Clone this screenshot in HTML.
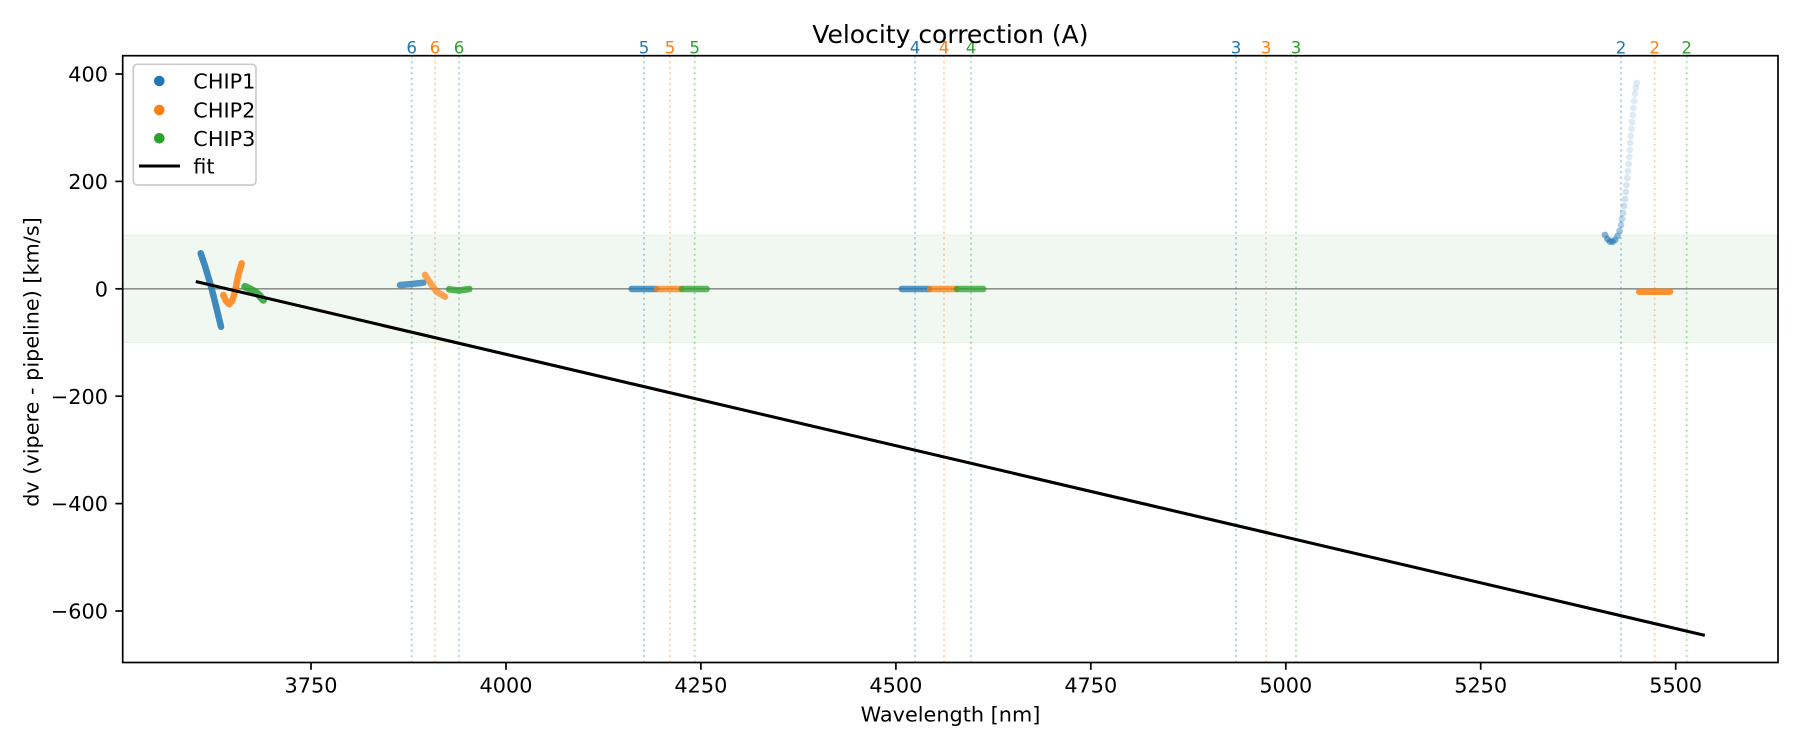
<!DOCTYPE html>
<html>
<head>
<meta charset="utf-8">
<style>
  html, body { margin:0; padding:0; background:#fff; }
  svg { display:block; }
  text { font-family: "DejaVu Sans", "Liberation Sans", sans-serif; }
</style>
</head>
<body>
<svg width="1800" height="750" viewBox="0 0 1800 750" xmlns="http://www.w3.org/2000/svg">
  <rect x="0" y="0" width="1800" height="750" fill="#ffffff"/>

  <!-- green band +-100 -->
  <rect x="122.7" y="235.1" width="1655.3" height="107.4" fill="#008000" fill-opacity="0.055" stroke="#008000" stroke-opacity="0.08" stroke-width="1"/>

  <!-- zero line -->
  <line x1="122.7" y1="288.8" x2="1778" y2="288.8" stroke="#808080" stroke-width="1.4"/>

  <!-- vertical dotted lines -->
  <g stroke-width="1.7" stroke-dasharray="2.1 3.4" stroke-opacity="0.4">
    <line x1="411.7" y1="55.7" x2="411.7" y2="662.5" stroke="#1f77b4"/>
    <line x1="435" y1="55.7" x2="435" y2="662.5" stroke="#ff7f0e"/>
    <line x1="459" y1="55.7" x2="459" y2="662.5" stroke="#2ca02c"/>
    <line x1="644" y1="55.7" x2="644" y2="662.5" stroke="#1f77b4"/>
    <line x1="670" y1="55.7" x2="670" y2="662.5" stroke="#ff7f0e"/>
    <line x1="694.7" y1="55.7" x2="694.7" y2="662.5" stroke="#2ca02c"/>
    <line x1="915" y1="55.7" x2="915" y2="662.5" stroke="#1f77b4"/>
    <line x1="944" y1="55.7" x2="944" y2="662.5" stroke="#ff7f0e"/>
    <line x1="971" y1="55.7" x2="971" y2="662.5" stroke="#2ca02c"/>
    <line x1="1236" y1="55.7" x2="1236" y2="662.5" stroke="#1f77b4"/>
    <line x1="1266" y1="55.7" x2="1266" y2="662.5" stroke="#ff7f0e"/>
    <line x1="1296" y1="55.7" x2="1296" y2="662.5" stroke="#2ca02c"/>
    <line x1="1621" y1="55.7" x2="1621" y2="662.5" stroke="#1f77b4"/>
    <line x1="1654.7" y1="55.7" x2="1654.7" y2="662.5" stroke="#ff7f0e"/>
    <line x1="1686.7" y1="55.7" x2="1686.7" y2="662.5" stroke="#2ca02c"/>
  </g>

  <!-- order labels -->
  <g font-size="16.7" text-anchor="middle">
    <text x="411.7" y="53.3" fill="#1f77b4">6</text>
    <text x="435" y="53.3" fill="#ff7f0e">6</text>
    <text x="459" y="53.3" fill="#2ca02c">6</text>
    <text x="644" y="53.3" fill="#1f77b4">5</text>
    <text x="670" y="53.3" fill="#ff7f0e">5</text>
    <text x="694.7" y="53.3" fill="#2ca02c">5</text>
    <text x="915" y="53.3" fill="#1f77b4">4</text>
    <text x="944" y="53.3" fill="#ff7f0e">4</text>
    <text x="971" y="53.3" fill="#2ca02c">4</text>
    <text x="1236" y="53.3" fill="#1f77b4">3</text>
    <text x="1266" y="53.3" fill="#ff7f0e">3</text>
    <text x="1296" y="53.3" fill="#2ca02c">3</text>
    <text x="1621" y="53.3" fill="#1f77b4">2</text>
    <text x="1654.7" y="53.3" fill="#ff7f0e">2</text>
    <text x="1686.7" y="53.3" fill="#2ca02c">2</text>
  </g>

  <!-- data segments -->
  <g fill="none" stroke-linecap="round" stroke-linejoin="round" stroke-width="6.5" stroke-opacity="0.85">
    <polyline stroke="#1f77b4" points="200.7,253.3 205,266 210.7,285 216,306 221,326.7"/>
    <polyline stroke="#ff7f0e" points="223.3,295 226,301 229.3,304.3 232.5,300 235,291.7 238.3,275 241.7,263.3"/>
    <polyline stroke="#2ca02c" stroke-width="7.5" points="245,286.7 250,289 255,291.7 259,295 263.3,300"/>

    <polyline stroke="#1f77b4" stroke-opacity="0.75" points="400,285 412,284 423.3,282.7"/>
    <polyline stroke="#ff7f0e" stroke-opacity="0.7" points="425,275 431.7,285 436.7,291.7 445,296.7"/>
    <polyline stroke="#2ca02c" stroke-opacity="0.8" points="449,289.3 459,290.5 469.3,289"/>

    <polyline stroke="#1f77b4" stroke-opacity="0.75" points="631.7,289 656,289"/>
    <polyline stroke="#ff7f0e" stroke-opacity="0.75" points="657,289 681,289"/>
    <polyline stroke="#2ca02c" stroke-opacity="0.75" points="682,289 706.7,289"/>

    <polyline stroke="#1f77b4" stroke-opacity="0.75" points="901.7,289 929,289"/>
    <polyline stroke="#ff7f0e" stroke-opacity="0.75" points="930,289 956.5,289"/>
    <polyline stroke="#2ca02c" stroke-opacity="0.75" points="957,289 983.3,289"/>

    <polyline stroke="#ff7f0e" stroke-opacity="0.85" points="1639.3,291.7 1670,291.7"/>
  </g>

  <!-- chip1 order 2 curve dots -->
  <g fill="#1f77b4">
    <circle cx="1605" cy="235" r="3.4" fill-opacity="0.55"/>
    <circle cx="1607.5" cy="239" r="3.4" fill-opacity="0.6"/>
    <circle cx="1610" cy="241.5" r="3.4" fill-opacity="0.6"/>
    <circle cx="1612.5" cy="241.7" r="3.4" fill-opacity="0.6"/>
    <circle cx="1615" cy="240" r="3.4" fill-opacity="0.55"/>
    <circle cx="1617.5" cy="236" r="3.4" fill-opacity="0.5"/>
    <circle cx="1619.5" cy="231" r="3.4" fill-opacity="0.42"/>
    <circle cx="1621" cy="225" r="3.4" fill-opacity="0.35"/>
    <circle cx="1622" cy="219" r="3.4" fill-opacity="0.3"/>
    <circle cx="1623" cy="213" r="3.4" fill-opacity="0.26"/>
    <circle cx="1624" cy="206" r="3.4" fill-opacity="0.24"/>
    <circle cx="1625" cy="199" r="3.4" fill-opacity="0.22"/>
    <circle cx="1625.8" cy="192" r="3.4" fill-opacity="0.2"/>
    <circle cx="1626.5" cy="185" r="3.4" fill-opacity="0.18"/>
    <circle cx="1627.3" cy="178" r="3.4" fill-opacity="0.17"/>
    <circle cx="1628" cy="171" r="3.4" fill-opacity="0.16"/>
    <circle cx="1628.7" cy="164" r="3.4" fill-opacity="0.16"/>
    <circle cx="1629.3" cy="157" r="3.4" fill-opacity="0.15"/>
    <circle cx="1629.8" cy="150" r="3.4" fill-opacity="0.15"/>
    <circle cx="1630.3" cy="143" r="3.4" fill-opacity="0.15"/>
    <circle cx="1630.8" cy="136" r="3.4" fill-opacity="0.15"/>
    <circle cx="1631.4" cy="129" r="3.4" fill-opacity="0.15"/>
    <circle cx="1632" cy="122" r="3.4" fill-opacity="0.15"/>
    <circle cx="1632.7" cy="115" r="3.4" fill-opacity="0.15"/>
    <circle cx="1633.4" cy="108" r="3.4" fill-opacity="0.15"/>
    <circle cx="1634.2" cy="101" r="3.4" fill-opacity="0.15"/>
    <circle cx="1635" cy="94" r="3.4" fill-opacity="0.15"/>
    <circle cx="1635.8" cy="88" r="3.4" fill-opacity="0.15"/>
    <circle cx="1636.7" cy="83" r="3.4" fill-opacity="0.15"/>
  </g>

  <!-- fit line -->
  <line x1="197.3" y1="281.9" x2="1703.3" y2="635" stroke="#000" stroke-width="3.1" stroke-linecap="square"/>

  <!-- legend -->
  <rect x="133.3" y="64.3" width="122.7" height="120.7" rx="4" ry="4" fill="#ffffff" fill-opacity="0.8" stroke="#cccccc" stroke-width="1.7"/>
  <circle cx="159.3" cy="81" r="5.3" fill="#1f77b4"/>
  <circle cx="159.3" cy="110" r="5.3" fill="#ff7f0e"/>
  <circle cx="159.3" cy="138.3" r="5.3" fill="#2ca02c"/>
  <line x1="139" y1="166" x2="180" y2="166" stroke="#000" stroke-width="3.1"/>
  <g font-size="20.8" fill="#000">
    <text x="193.3" y="88.5">CHIP1</text>
    <text x="193.3" y="117.5">CHIP2</text>
    <text x="193.3" y="145.8">CHIP3</text>
    <text x="193.3" y="173.5">fit</text>
  </g>

  <!-- axes spines -->
  <rect x="122.7" y="55.7" width="1655.3" height="606.8" fill="none" stroke="#000" stroke-width="1.7"/>

  <!-- y ticks -->
  <g stroke="#000" stroke-width="1.7">
    <line x1="115.4" y1="74" x2="122.7" y2="74"/>
    <line x1="115.4" y1="181.4" x2="122.7" y2="181.4"/>
    <line x1="115.4" y1="288.8" x2="122.7" y2="288.8"/>
    <line x1="115.4" y1="396.2" x2="122.7" y2="396.2"/>
    <line x1="115.4" y1="503.6" x2="122.7" y2="503.6"/>
    <line x1="115.4" y1="611" x2="122.7" y2="611"/>
  </g>
  <g font-size="20.8" text-anchor="end" fill="#000">
    <text x="108" y="81.6">400</text>
    <text x="108" y="189">200</text>
    <text x="108" y="296.4">0</text>
    <text x="108" y="403.8">−200</text>
    <text x="108" y="511.2">−400</text>
    <text x="108" y="618.6">−600</text>
  </g>

  <!-- x ticks -->
  <g stroke="#000" stroke-width="1.7">
    <line x1="311" y1="662.5" x2="311" y2="669.8"/>
    <line x1="506" y1="662.5" x2="506" y2="669.8"/>
    <line x1="700.9" y1="662.5" x2="700.9" y2="669.8"/>
    <line x1="895.9" y1="662.5" x2="895.9" y2="669.8"/>
    <line x1="1090.8" y1="662.5" x2="1090.8" y2="669.8"/>
    <line x1="1285.8" y1="662.5" x2="1285.8" y2="669.8"/>
    <line x1="1480.7" y1="662.5" x2="1480.7" y2="669.8"/>
    <line x1="1675.7" y1="662.5" x2="1675.7" y2="669.8"/>
  </g>
  <g font-size="20.8" text-anchor="middle" fill="#000">
    <text x="311" y="692.7">3750</text>
    <text x="506" y="692.7">4000</text>
    <text x="700.9" y="692.7">4250</text>
    <text x="895.9" y="692.7">4500</text>
    <text x="1090.8" y="692.7">4750</text>
    <text x="1285.8" y="692.7">5000</text>
    <text x="1480.7" y="692.7">5250</text>
    <text x="1675.7" y="692.7">5500</text>
  </g>

  <!-- axis labels & title -->
  <text x="950.5" y="721.7" font-size="20.8" text-anchor="middle" fill="#000">Wavelength [nm]</text>
  <text transform="translate(38.5,362) rotate(-90)" x="0" y="0" font-size="20.8" text-anchor="middle" fill="#000">dv (vipere - pipeline) [km/s]</text>
  <text x="950.4" y="43" font-size="25" text-anchor="middle" fill="#000">Velocity correction (A)</text>
</svg>
</body>
</html>
